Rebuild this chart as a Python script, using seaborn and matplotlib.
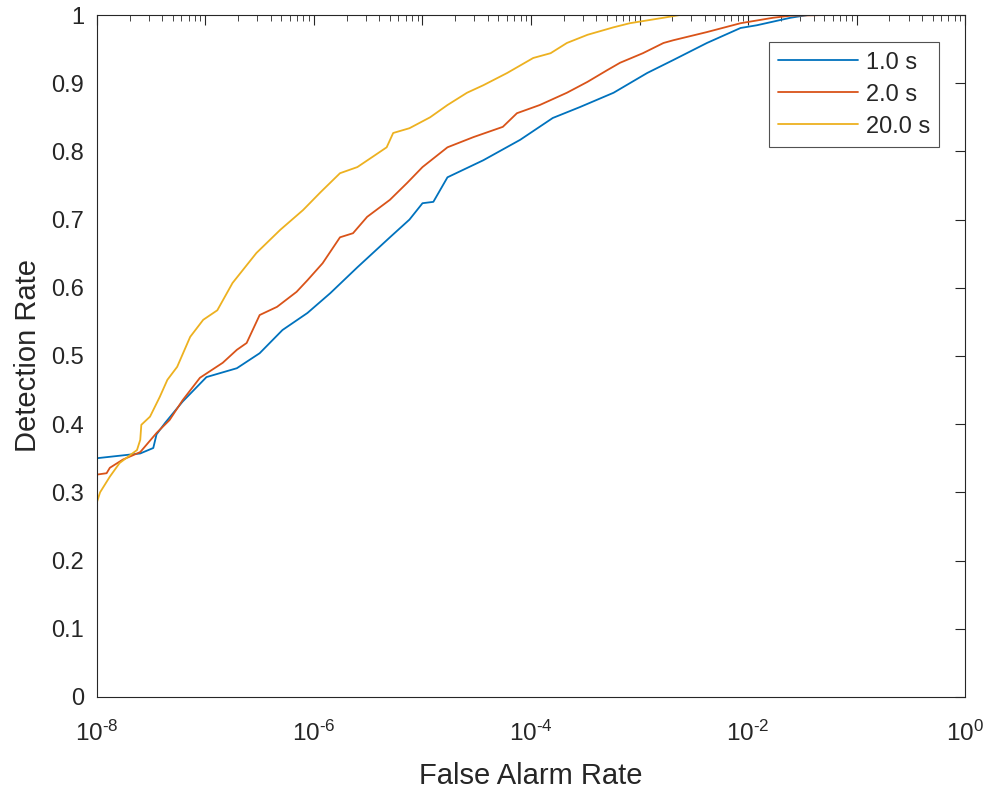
import numpy as np
import pandas as pd
import matplotlib
matplotlib.use("Agg")
import matplotlib.pyplot as plt
import seaborn as sns
from matplotlib.ticker import LogLocator, FuncFormatter, NullFormatter

# 데이터 (x: log10 false alarm rate, y: detection rate)
logfar_1s = [-8.00, -7.60, -7.48, -7.45, -7.37, -7.21, -6.99, -6.71, -6.50, -6.29, -6.06,
             -5.85, -5.60, -5.30, -5.12, -5.00, -4.90, -4.77, -4.44, -4.10, -3.80, -3.55,
             -3.24, -2.93, -2.69, -2.38, -2.07, -1.92, -1.61, -1.45, 0.0]
det_1s = [0.350, 0.357, 0.365, 0.385, 0.402, 0.433, 0.469, 0.482, 0.504, 0.538, 0.563,
          0.592, 0.630, 0.674, 0.700, 0.724, 0.726, 0.762, 0.787, 0.817, 0.849, 0.865,
          0.886, 0.915, 0.934, 0.959, 0.981, 0.985, 0.996, 1.000, 1.000]

logfar_2s = [-8.00, -7.91, -7.88, -7.76, -7.60, -7.45, -7.33, -7.21, -7.05, -6.84, -6.71,
             -6.62, -6.50, -6.34, -6.16, -6.06, -5.92, -5.76, -5.64, -5.51, -5.30, -5.14,
             -5.00, -4.77, -4.53, -4.26, -4.13, -3.92, -3.67, -3.48, -3.30, -3.18, -2.97,
             -2.78, -2.69, -2.38, -2.07, -1.77, -1.61, -1.30, 0.0]
det_2s = [0.326, 0.328, 0.336, 0.348, 0.359, 0.387, 0.406, 0.435, 0.468, 0.490, 0.509,
          0.519, 0.560, 0.572, 0.594, 0.611, 0.636, 0.674, 0.680, 0.704, 0.729, 0.754,
          0.777, 0.806, 0.821, 0.836, 0.856, 0.868, 0.886, 0.902, 0.919, 0.930, 0.944,
          0.959, 0.963, 0.975, 0.988, 0.996, 0.999, 1.000, 1.000]

logfar_20s = [-8.00, -7.97, -7.88, -7.79, -7.63, -7.60, -7.59, -7.51, -7.42, -7.35, -7.26,
              -7.14, -7.02, -6.89, -6.75, -6.53, -6.31, -6.10, -5.94, -5.76, -5.60, -5.46,
              -5.33, -5.27, -5.12, -4.93, -4.77, -4.59, -4.44, -4.22, -3.98, -3.82, -3.67,
              -3.48, -3.24, -3.09, -2.78, -2.63, 0.0]
det_20s = [0.285, 0.300, 0.323, 0.343, 0.362, 0.377, 0.399, 0.411, 0.440, 0.465, 0.484,
           0.528, 0.553, 0.567, 0.607, 0.651, 0.685, 0.714, 0.740, 0.768, 0.777, 0.792,
           0.806, 0.827, 0.834, 0.850, 0.868, 0.886, 0.897, 0.915, 0.937, 0.944, 0.959,
           0.971, 0.982, 0.988, 0.996, 1.000, 1.000]

labels = ["1.0 s", "2.0 s", "20.0 s"]
colors = ["#0072BD", "#D95319", "#EDB120"]

frames = []
for lab, lx, dy in zip(labels, [logfar_1s, logfar_2s, logfar_20s], [det_1s, det_2s, det_20s]):
    frames.append(pd.DataFrame({"far": 10.0 ** np.array(lx), "det": dy, "window": lab}))
df = pd.concat(frames, ignore_index=True)

sns.set_style("white")
plt.rcParams['font.family'] = ['Liberation Sans', 'DejaVu Sans']
plt.rcParams['mathtext.default'] = 'regular'
plt.rcParams['mathtext.fontset'] = 'custom'
plt.rcParams['mathtext.rm'] = 'Liberation Sans'

fig = plt.figure(figsize=(9.88, 7.91), dpi=100)
ax = fig.add_axes([0.098, 0.119, 0.879, 0.862])

sns.lineplot(data=df, x="far", y="det", hue="window", palette=colors,
             estimator=None, sort=True, linewidth=1.3, ax=ax)

ax.set_xscale("log")
ax.set_xlim(1e-8, 1)
ax.set_ylim(0, 1)
ax.xaxis.set_major_locator(LogLocator(base=10, numticks=20))
ax.xaxis.set_minor_locator(LogLocator(base=10, subs=np.arange(2, 10), numticks=20))
ax.xaxis.set_minor_formatter(NullFormatter())


def fmt(v, pos):
    e = int(round(np.log10(v)))
    if e % 2 != 0:
        return ""
    if e < 0:
        return r"$10^{\text{-}%d}$" % abs(e)
    return r"$10^{%d}$" % e


ax.xaxis.set_major_formatter(FuncFormatter(fmt))
ax.set_yticks(np.arange(0, 1.01, 0.1))
ax.set_yticklabels(["0", "0.1", "0.2", "0.3", "0.4", "0.5", "0.6", "0.7", "0.8", "0.9", "1"])

ax.tick_params(which="both", direction="in", top=True, right=True,
               colors="#262626", labelsize=17)
ax.tick_params(axis="x", labelsize=17.5)
ax.tick_params(which="major", length=7, width=0.8)
ax.tick_params(which="minor", length=4, width=0.6)
ax.tick_params(axis="x", pad=17)
ax.tick_params(axis="y", pad=9)
for s in ax.spines.values():
    s.set_color("#262626")
    s.set_linewidth(0.8)

ax.set_xlabel("False Alarm Rate", fontsize=21, color="#262626", labelpad=12)
ax.set_ylabel("Detection Rate", fontsize=21, color="#262626", labelpad=7)

leg = ax.legend(loc="upper right", bbox_to_anchor=(0.970, 0.960), borderaxespad=0,
                fontsize=17, handlelength=3.4, handletextpad=0.3, labelspacing=0.42,
                borderpad=0.4, frameon=True, fancybox=False, edgecolor="#262626",
                title=None)
leg.get_frame().set_linewidth(0.8)

fig.savefig("out.png", dpi=100, facecolor="white")
